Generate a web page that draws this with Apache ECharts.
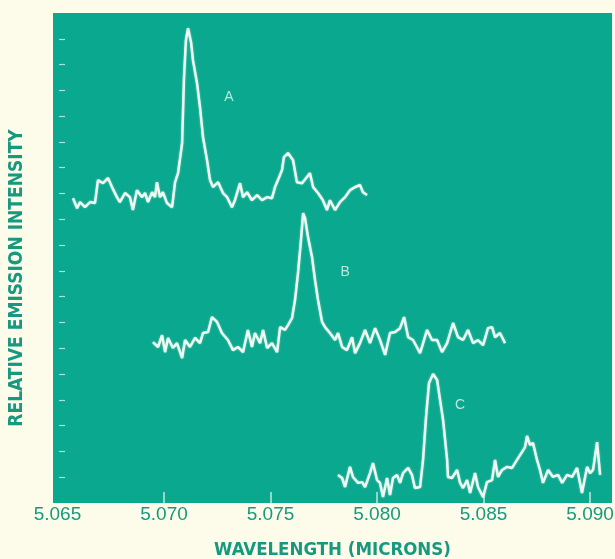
<!DOCTYPE html>
<html>
<head>
<meta charset="utf-8">
<script src="https://cdn.jsdelivr.net/npm/echarts@6/dist/echarts.min.js"></script>
<style>
  html, body { margin: 0; padding: 0; background: #fdfcea; }
  #chart { width: 615px; height: 559px; }
</style>
</head>
<body>
<div id="chart"></div>
<script>
// wavelength (microns), relative intensity
var traceA = [
  [5.06573, 11.82], [5.06592, 11.43], [5.06606, 11.67], [5.06629, 11.47], [5.06653, 11.67], [5.06676, 11.63],
  [5.06690, 12.52], [5.06714, 12.40], [5.06737, 12.60], [5.06756, 12.25], [5.06779, 11.86], [5.06793, 11.67],
  [5.06817, 12.02], [5.06840, 11.86], [5.06854, 11.36], [5.06873, 12.13], [5.06897, 11.86], [5.06911, 12.02],
  [5.06925, 11.67], [5.06944, 12.05], [5.06958, 11.86], [5.06967, 12.44], [5.06981, 11.86], [5.06995, 12.05],
  [5.07014, 11.63], [5.07038, 11.47], [5.07052, 12.44], [5.07066, 12.79], [5.07085, 13.95], [5.07094, 16.51],
  [5.07103, 17.95], [5.07113, 18.41], [5.07127, 17.87], [5.07136, 17.17], [5.07155, 16.28], [5.07169, 15.35],
  [5.07183, 14.19], [5.07202, 13.29], [5.07216, 12.52], [5.07230, 12.25], [5.07254, 12.44], [5.07277, 12.02],
  [5.07296, 11.86], [5.07319, 11.47], [5.07333, 11.74], [5.07357, 12.40], [5.07371, 11.86], [5.07390, 12.05],
  [5.07413, 11.74], [5.07437, 11.94], [5.07460, 11.74], [5.07484, 11.86], [5.07507, 11.82], [5.07521, 12.25],
  [5.07535, 12.52], [5.07554, 12.91], [5.07563, 13.41], [5.07582, 13.57], [5.07606, 13.29], [5.07624, 12.44],
  [5.07648, 12.40], [5.07671, 12.64], [5.07685, 12.79], [5.07700, 12.25], [5.07723, 12.02], [5.07746, 11.74],
  [5.07765, 11.36], [5.07779, 11.74], [5.07803, 11.36], [5.07826, 11.67], [5.07850, 11.86], [5.07873, 12.13],
  [5.07897, 12.25], [5.07920, 12.33], [5.07934, 12.05], [5.07953, 11.94]
];

var traceB = [
  [5.06948, 6.24], [5.06972, 6.05], [5.06991, 6.51], [5.07005, 5.85], [5.07019, 6.40], [5.07042, 6.01],
  [5.07061, 6.20], [5.07085, 5.62], [5.07099, 6.32], [5.07122, 6.05], [5.07146, 6.40], [5.07169, 6.20],
  [5.07183, 6.59], [5.07207, 6.63], [5.07225, 7.21], [5.07249, 7.02], [5.07272, 6.59], [5.07300, 6.32],
  [5.07324, 5.93], [5.07347, 6.05], [5.07371, 5.85], [5.07394, 6.71], [5.07413, 6.05], [5.07427, 6.59],
  [5.07451, 6.20], [5.07465, 6.71], [5.07484, 6.01], [5.07507, 6.20], [5.07531, 5.85], [5.07545, 6.82],
  [5.07568, 6.71], [5.07582, 6.90], [5.07601, 7.17], [5.07615, 7.87], [5.07629, 8.91], [5.07643, 10.19],
  [5.07653, 11.24], [5.07662, 11.05], [5.07676, 10.31], [5.07695, 9.53], [5.07709, 8.64], [5.07723, 7.87],
  [5.07742, 7.02], [5.07756, 6.82], [5.07779, 6.59], [5.07803, 6.32], [5.07817, 6.59], [5.07836, 6.05],
  [5.07859, 5.93], [5.07883, 6.43], [5.07897, 5.81], [5.07920, 6.20], [5.07944, 6.71], [5.07967, 6.20],
  [5.07991, 6.78], [5.08014, 6.32], [5.08038, 5.74], [5.08061, 6.59], [5.08085, 6.63], [5.08108, 6.78],
  [5.08127, 7.21], [5.08146, 6.43], [5.08169, 6.32], [5.08202, 5.81], [5.08235, 6.71], [5.08258, 6.32],
  [5.08282, 6.32], [5.08305, 5.85], [5.08329, 6.20], [5.08357, 6.98], [5.08380, 6.43], [5.08404, 6.32],
  [5.08427, 6.71], [5.08451, 6.20], [5.08474, 6.32], [5.08498, 6.12], [5.08521, 6.78], [5.08540, 6.82],
  [5.08554, 6.43], [5.08577, 6.59], [5.08601, 6.20]
];

var traceC = [
  [5.07817, 1.09], [5.07836, 0.97], [5.07850, 0.62], [5.07873, 1.40], [5.07887, 1.01], [5.07911, 0.78],
  [5.07930, 0.81], [5.07944, 0.62], [5.07967, 1.16], [5.07981, 1.55], [5.08000, 0.89], [5.08014, 0.78],
  [5.08028, 0.23], [5.08047, 0.97], [5.08061, 0.31], [5.08075, 0.97], [5.08094, 1.09], [5.08108, 0.78],
  [5.08122, 1.16], [5.08146, 1.36], [5.08164, 1.09], [5.08178, 0.58], [5.08202, 0.62], [5.08216, 1.67],
  [5.08230, 3.33], [5.08244, 4.65], [5.08263, 5.00], [5.08282, 4.77], [5.08296, 3.99], [5.08310, 3.22],
  [5.08329, 1.67], [5.08333, 1.01], [5.08352, 0.97], [5.08376, 1.28], [5.08390, 0.78], [5.08404, 0.58],
  [5.08423, 0.89], [5.08437, 0.39], [5.08460, 1.16], [5.08474, 0.62], [5.08498, 0.23], [5.08516, 0.81],
  [5.08540, 0.89], [5.08554, 1.67], [5.08568, 1.01], [5.08587, 1.28], [5.08610, 1.40], [5.08634, 1.36],
  [5.08657, 1.67], [5.08681, 1.98], [5.08695, 2.17], [5.08704, 2.60], [5.08718, 2.25], [5.08732, 2.33],
  [5.08751, 1.67], [5.08765, 1.28], [5.08779, 0.78], [5.08803, 1.28], [5.08826, 1.01], [5.08850, 1.09],
  [5.08869, 0.78], [5.08892, 1.09], [5.08916, 1.01], [5.08939, 1.36], [5.08962, 0.39], [5.08986, 1.40],
  [5.09000, 1.16], [5.09014, 1.28], [5.09033, 2.36], [5.09047, 1.09]
];

var traceLabels = [
  [5.07305, 15.74, 'A'],
  [5.07850, 8.95, 'B'],
  [5.08390, 3.80, 'C']
];

var xTicks = [5.065, 5.070, 5.075, 5.080, 5.085, 5.090];
var xTickMarks = [5.070, 5.075, 5.080, 5.085, 5.090];
var yTickMarks = [1, 2, 3, 4, 5, 6, 7, 8, 9, 10, 11, 12, 13, 14, 15, 16, 17, 18];

var chart = echarts.init(document.getElementById('chart'));

var traceColor = '#eefbf2';
var titleFont = '"DejaVu Sans Condensed", "Liberation Sans", sans-serif';

function traceSeries(data) {
  return {
    type: 'line',
    data: data,
    showSymbol: false,
    silent: true,
    lineStyle: {
      color: traceColor,
      width: 2.5,
      shadowColor: 'rgba(255,255,255,0.5)',
      shadowBlur: 2
    }
  };
}

var option = {
  backgroundColor: '#fdfcea',
  animation: false,
  grid: {
    left: 53,
    right: 3,
    top: 13,
    bottom: 56,
    containLabel: false,
    outerBoundsMode: 'none',
    show: true,
    backgroundColor: '#0aa88e',
    borderWidth: 0
  },
  xAxis: {
    type: 'value',
    min: 5.06479,
    max: 5.09103,
    name: 'WAVELENGTH (MICRONS)',
    nameLocation: 'middle',
    nameGap: 38,
    nameTextStyle: {
      color: '#17997f',
      fontFamily: titleFont,
      fontWeight: 'bold',
      fontSize: 18.5
    },
    axisLine: { show: false },
    splitLine: { show: false },
    axisTick: {
      show: true,
      inside: true,
      length: 11,
      customValues: xTickMarks,
      lineStyle: { color: 'rgba(225,245,235,0.85)', width: 1.5 }
    },
    axisLabel: {
      customValues: xTicks,
      margin: 2,
      color: '#17997f',
      fontFamily: '"Liberation Sans", Arial, sans-serif',
      fontSize: 19,
      formatter: function (v) { return v.toFixed(3); }
    }
  },
  yAxis: {
    type: 'value',
    min: 0,
    max: 19,
    offset: -6,
    axisLine: { show: false },
    splitLine: { show: false },
    axisLabel: { show: false },
    axisTick: {
      show: true,
      inside: true,
      length: 6,
      customValues: yTickMarks,
      lineStyle: { color: 'rgba(225,245,235,0.75)', width: 1.2 }
    }
  },
  graphic: [{
    type: 'text',
    x: 17,
    y: 278,
    rotation: Math.PI / 2,
    style: {
      text: 'RELATIVE EMISSION INTENSITY',
      fill: '#17997f',
      font: 'bold 19px ' + titleFont,
      textAlign: 'center',
      textVerticalAlign: 'middle'
    }
  }],
  series: [
    traceSeries(traceA),
    traceSeries(traceB),
    traceSeries(traceC),
    {
      type: 'scatter',
      silent: true,
      symbolSize: 0,
      data: traceLabels,
      label: {
        show: true,
        position: 'inside',
        formatter: function (p) { return p.value[2]; },
        color: '#e6f7ee',
        fontFamily: '"Liberation Sans", Arial, sans-serif',
        fontSize: 14
      }
    }
  ]
};

chart.setOption(option);
</script>
</body>
</html>
